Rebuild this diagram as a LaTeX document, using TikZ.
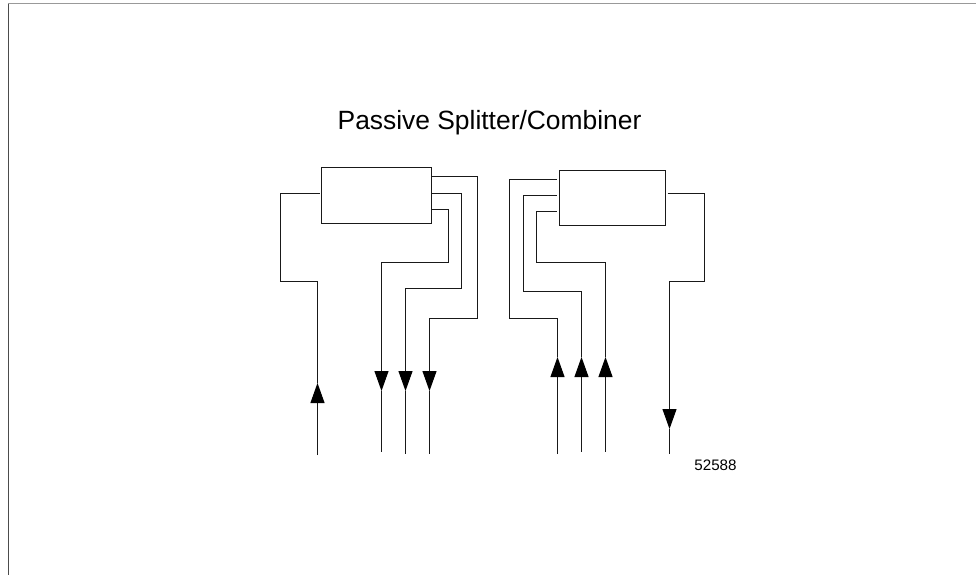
\documentclass[tikz,border=0pt]{standalone}
\usepackage{fontspec}
\setmainfont{Liberation Sans}
\usetikzlibrary{arrows.meta}
\tikzset{
  wire/.style={line width=1pt,color=black!90},
  boxnode/.style={draw=black!90,line width=1pt,fill=white,inner sep=0pt,minimum width=#1,minimum height=55.5pt},
  tip/.style={wire,-{Triangle[length=20pt,width=14pt,color=black]}},
  frameline/.style={line width=1pt},
}
\begin{document}
\begin{tikzpicture}[x=1pt,y=-1pt]
\useasboundingbox (0,0) rectangle (976,575);
\draw[frameline,black!40] (8,4) -- (976,4);
\draw[frameline,black!70] (8,4) -- (8,575);
\node[font=\fontsize{26.4}{30}\selectfont] (title) at (489.5,123) {Passive Splitter/Combiner};
\node[font=\fontsize{15.2}{18}\selectfont] (num) at (715.5,465) {52588};
\node[boxnode=109.5pt] (lbox) at (376.25,195.25) {};
\node[boxnode=106.5pt] (rbox) at (612.25,198) {};
% bottom free ends
\coordinate (l0) at (317.5,455);
\coordinate (l1) at (381.5,451.5);
\coordinate (l2) at (405.5,454);
\coordinate (l3) at (429.5,454);
\coordinate (r1) at (557.5,454);
\coordinate (r2) at (581.5,451.5);
\coordinate (r3) at (605.5,451.5);
\coordinate (r0) at (669.5,454);
% left group
\draw[tip] (l0) -- (317.5,383);
\draw[wire] (317.5,383) -- (317.5,281) -- (280,281) -- (280,193) -- ([xshift=-1.5pt,yshift=2.25pt]lbox.west);
\draw[tip] ([yshift=-13.75pt]lbox.east) -- (448,209) -- (448,262) -- (381.5,262) -- (381.5,391);
\draw[wire] (381.5,391) -- (l1);
\draw[tip] ([yshift=2.25pt]lbox.east) -- (461.5,193) -- (461.5,288.5) -- (405.5,288.5) -- (405.5,391);
\draw[wire] (405.5,391) -- (l2);
\draw[tip] ([yshift=18.75pt]lbox.east) -- (477.5,176.5) -- (477.5,318) -- (429.5,318) -- (429.5,391);
\draw[wire] (429.5,391) -- (l3);
% right group
\draw[tip] (r1) -- (557.5,357);
\draw[wire] (557.5,357) -- (557.5,318) -- (509.5,318) -- (509.5,179.5) -- ([xshift=-1.5pt,yshift=18.5pt]rbox.west);
\draw[tip] (r2) -- (581.5,357);
\draw[wire] (581.5,357) -- (581.5,291.5) -- (523,291.5) -- (523,195.5) -- ([xshift=-1.5pt,yshift=2.5pt]rbox.west);
\draw[tip] (r3) -- (605.5,357);
\draw[wire] (605.5,357) -- (605.5,262) -- (536.5,262) -- (536.5,211.5) -- ([xshift=-1.5pt,yshift=-13.5pt]rbox.west);
\draw[tip] ([xshift=1.5pt,yshift=5pt]rbox.east) -- (704,193) -- (704,281) -- (669.5,281) -- (669.5,429);
\draw[wire] (669.5,429) -- (r0);
\end{tikzpicture}
\end{document}
